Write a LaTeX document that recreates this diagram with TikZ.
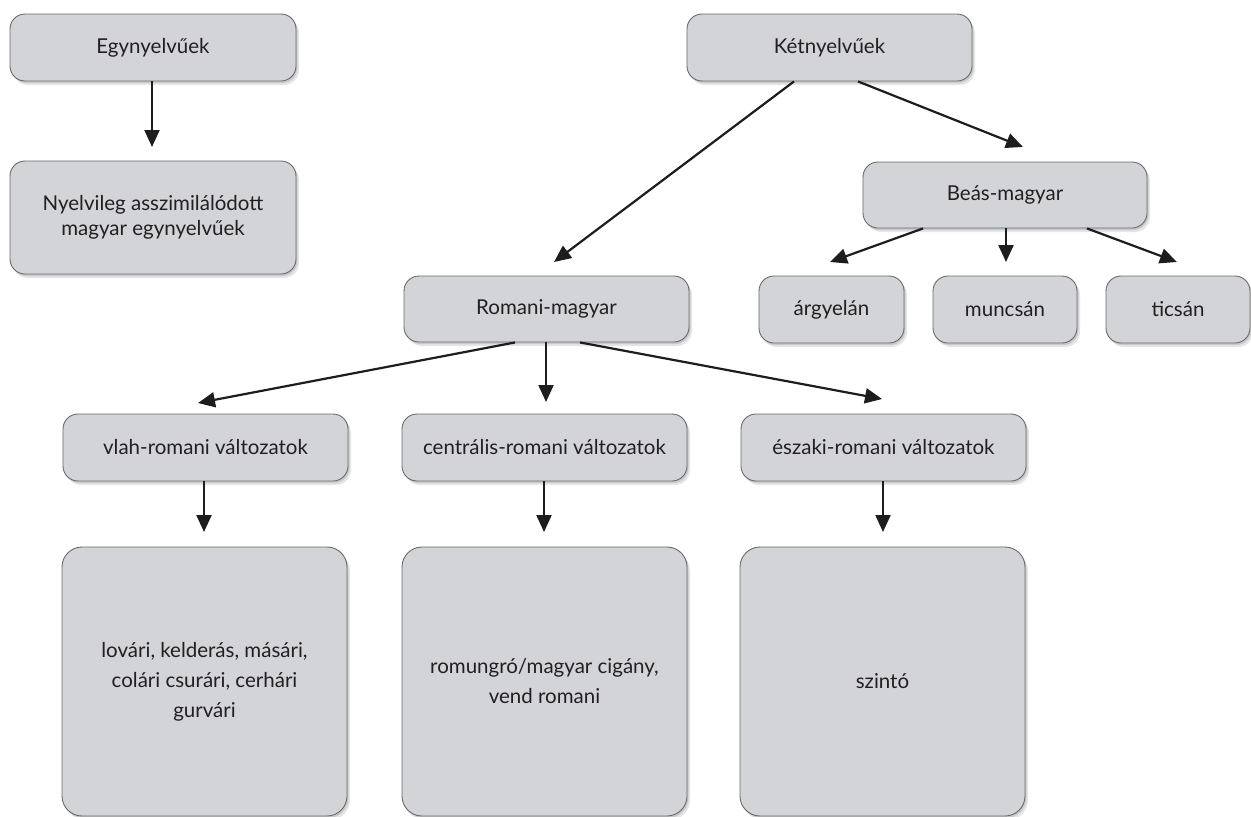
\documentclass[tikz,border=0pt]{standalone}
\usepackage{fontspec}
\setmainfont{Lato}
\usetikzlibrary{arrows.meta,shadows}
\definecolor{boxfill}{RGB}{211,212,216}
\definecolor{boxline}{RGB}{105,105,108}
\definecolor{txt}{RGB}{35,31,32}
\definecolor{arr}{RGB}{30,28,28}
\begin{document}
\begin{tikzpicture}[x=1pt,y=-1pt,
  box/.style={draw=boxline, line width=0.9pt, fill=boxfill, rounded corners=15pt,
    inner sep=0pt, align=center, text=txt,
    font=\fontsize{20.5}{25}\selectfont,
    drop shadow={shadow xshift=3pt, shadow yshift=-4pt, fill=black, opacity=0.10},
    drop shadow={shadow xshift=1.5pt, shadow yshift=-2pt, fill=black, opacity=0.12}},
  bigbox/.style={box, rounded corners=20pt, font=\fontsize{20.5}{30}\selectfont},
  conn/.style={draw=arr, line width=2.2pt, -{Triangle[length=17pt,width=15pt]}}]
\useasboundingbox (0,0) rectangle (1251,817);

\node[box, minimum width=286pt, minimum height=67pt] (egy) at (153,47.5) {Egynyelvűek};
\node[box, minimum width=286pt, minimum height=113pt] (nyel) at (153,217.5) {Nyelvileg asszimilálódott\\magyar egynyelvűek};
\node[box, minimum width=285pt, minimum height=67pt] (ket) at (829.5,47.5) {Kétnyelvűek};
\node[box, minimum width=284pt, minimum height=66pt] (beas) at (1005,195) {Beás-magyar};
\node[box, minimum width=145pt, minimum height=67pt] (arg) at (831.5,309.5) {árgyelán};
\node[box, minimum width=144pt, minimum height=67pt] (munc) at (1005,309.5) {muncsán};
\node[box, minimum width=144pt, minimum height=67pt] (tic) at (1178,309.5) {ticsán};
\node[box, minimum width=285pt, minimum height=66pt] (rom) at (546.5,309) {Romani-magyar};
\node[box, minimum width=285pt, minimum height=67pt] (vlah) at (205.5,447.5) {vlah-romani változatok};
\node[box, minimum width=285pt, minimum height=67pt] (centr) at (544.5,447.5) {centrális-romani változatok};
\node[box, minimum width=285pt, minimum height=67pt] (esz) at (883.5,447.5) {északi-romani változatok};
\node[bigbox, minimum width=285pt, minimum height=269pt] (big1) at (204.5,681.5) {lovári, kelderás, másári,\\colári csurári, cerhári\\gurvári};
\node[bigbox, minimum width=285pt, minimum height=269pt] (big2) at (544.5,681.5) {romungró/magyar cigány,\\vend romani};
\node[bigbox, minimum width=285pt, minimum height=269pt] (big3) at (882.5,681.5) {szintó};

% arrow tips
\coordinate (tEgy) at (152,147);
\coordinate (tKetL) at (554,262);
\coordinate (tKetR) at (1023,147);
\coordinate (tBeL) at (830,262);
\coordinate (tBeC) at (1006,262);
\coordinate (tBeR) at (1177,262);
\coordinate (tRomL) at (198,403);
\coordinate (tRomC) at (546,402);
\coordinate (tRomR) at (882,399);
\coordinate (tVlah) at (204,532);
\coordinate (tCentr) at (544,532);
\coordinate (tEsz) at (883,532);

\draw[conn] ([xshift=-1pt]egy.south) -- (tEgy);
\draw[conn] ([xshift=-35.5pt]ket.south) -- (tKetL);
\draw[conn] ([xshift=28.5pt]ket.south) -- (tKetR);
\draw[conn] ([xshift=-82pt]beas.south) -- (tBeL);
\draw[conn] ([xshift=1pt]beas.south) -- (tBeC);
\draw[conn] ([xshift=82pt]beas.south) -- (tBeR);
\draw[conn] ([xshift=-31.5pt]rom.south) -- (tRomL);
\draw[conn] ([xshift=-0.5pt]rom.south) -- (tRomC);
\draw[conn] ([xshift=33.5pt]rom.south) -- (tRomR);
\draw[conn] ([xshift=-1.5pt]vlah.south) -- (tVlah);
\draw[conn] ([xshift=-0.5pt]centr.south) -- (tCentr);
\draw[conn] ([xshift=-0.5pt]esz.south) -- (tEsz);
\end{tikzpicture}
\end{document}
